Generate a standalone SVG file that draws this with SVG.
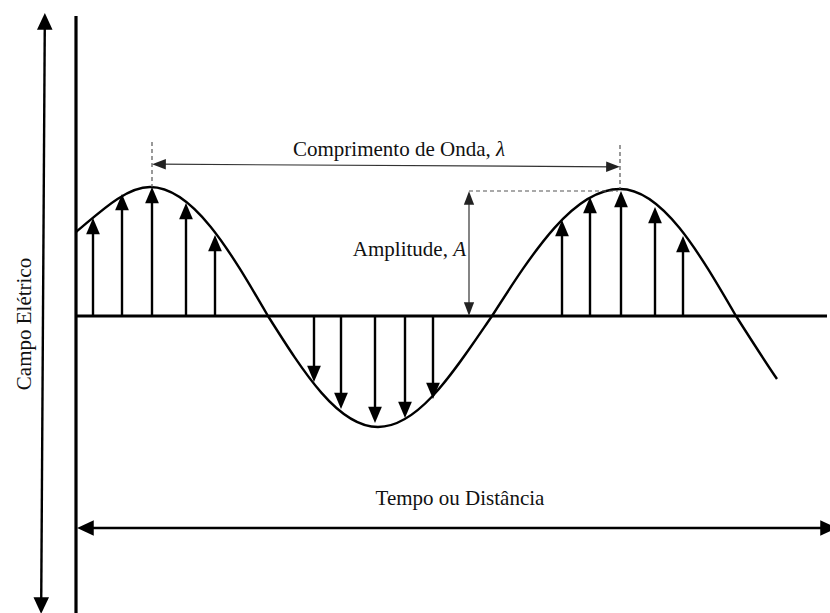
<svg xmlns="http://www.w3.org/2000/svg" width="830" height="613" viewBox="0 0 830 613">
<style>
.lbl{font-family:"Liberation Serif","Times New Roman",serif;font-size:21px;fill:#111}
.it{font-style:italic}
.axis{stroke:#000;stroke-width:3.2;fill:none}
.wave{stroke:#000;stroke-width:2.4;fill:none}
.vec{stroke:#000;stroke-width:2.4;marker-end:url(#hv)}
.big{stroke:#000;stroke-width:2.4;marker-start:url(#hb);marker-end:url(#hb)}
.dim{stroke:#333;stroke-width:1.2;marker-start:url(#ht);marker-end:url(#ht)}
.dash{stroke:#555;stroke-width:1.2;stroke-dasharray:4 3;fill:none}
</style>
<defs>
<marker id="hv" markerUnits="userSpaceOnUse" markerWidth="20" markerHeight="20" viewBox="-1 -7 16 14" refX="5" refY="0" orient="auto" overflow="visible"><path d="M0,-5.5 L13,0 L0,5.5 z" fill="#000"/></marker>
<marker id="hb" markerUnits="userSpaceOnUse" markerWidth="20" markerHeight="20" viewBox="-1 -8 18 16" refX="7" refY="0" orient="auto-start-reverse" overflow="visible"><path d="M0,-7 L15,0 L0,7 z" fill="#000"/></marker>
<marker id="ht" markerUnits="userSpaceOnUse" markerWidth="16" markerHeight="16" viewBox="-1 -6 14 12" refX="6" refY="0" orient="auto-start-reverse" overflow="visible"><path d="M0,-4.5 L12,0 L0,4.5 z" fill="#222"/></marker>
</defs>
<rect width="830" height="613" fill="#fff"/>
<g id="axes">
<line class="axis" x1="76" y1="16" x2="76" y2="613"/>
<line class="axis" x1="76" y1="316" x2="827" y2="316"/>
</g>
<g id="wave">
<path class="wave" d="M76,232 C98,214 125,187 150,187 C192.7,187 229.5,249.9 268,316 C303.9,372.9 338.2,427 378,427 C419.2,427 454.8,370.1 492,316 C533.7,250.9 573.7,189 620,189 C661.9,189 698.2,250.9 736,316 C750,338 764,360 777,379"/>
</g>
<g id="connectors">
<line class="big" x1="44.8" y1="22" x2="41.2" y2="605"/>
<line class="big" x1="86" y1="528" x2="828" y2="528"/>
<g id="vectors-up">
<line class="vec" x1="93" y1="316" x2="93" y2="228"/>
<line class="vec" x1="122" y1="316" x2="122" y2="204"/>
<line class="vec" x1="152" y1="316" x2="152" y2="197"/>
<line class="vec" x1="186" y1="316" x2="186" y2="213"/>
<line class="vec" x1="215" y1="316" x2="215" y2="245"/>
<line class="vec" x1="562" y1="316" x2="562" y2="230"/>
<line class="vec" x1="590" y1="316" x2="590" y2="207"/>
<line class="vec" x1="621" y1="316" x2="621" y2="201"/>
<line class="vec" x1="655" y1="316" x2="655" y2="217"/>
<line class="vec" x1="683" y1="316" x2="683" y2="246"/>
</g>
<g id="vectors-down">
<line class="vec" x1="314" y1="316" x2="314" y2="372"/>
<line class="vec" x1="341" y1="316" x2="341" y2="399"/>
<line class="vec" x1="375" y1="316" x2="375" y2="413"/>
<line class="vec" x1="405" y1="316" x2="405" y2="408"/>
<line class="vec" x1="433" y1="316" x2="433" y2="389"/>
</g>
<g id="dimensions">
<line class="dash" x1="152" y1="142" x2="152" y2="187"/>
<line class="dash" x1="620" y1="145" x2="620" y2="189"/>
<line class="dash" x1="469" y1="191" x2="618" y2="191"/>
<line class="dim" x1="159" y1="164.2" x2="613" y2="166.8"/>
<line class="dim" x1="469" y1="198" x2="469" y2="309"/>
</g>
</g>
<g id="label-wavelength"><text class="lbl" x="293" y="156">Comprimento de Onda, <tspan class="it">λ</tspan></text></g>
<g id="label-amplitude"><text class="lbl" x="466" y="256" text-anchor="end">Amplitude, <tspan class="it">A</tspan></text></g>
<g id="label-time"><text class="lbl" x="460" y="505" text-anchor="middle">Tempo ou Distância</text></g>
<g id="label-field"><text class="lbl" transform="translate(31,324) rotate(-90)" text-anchor="middle">Campo Elétrico</text></g>
</svg>
